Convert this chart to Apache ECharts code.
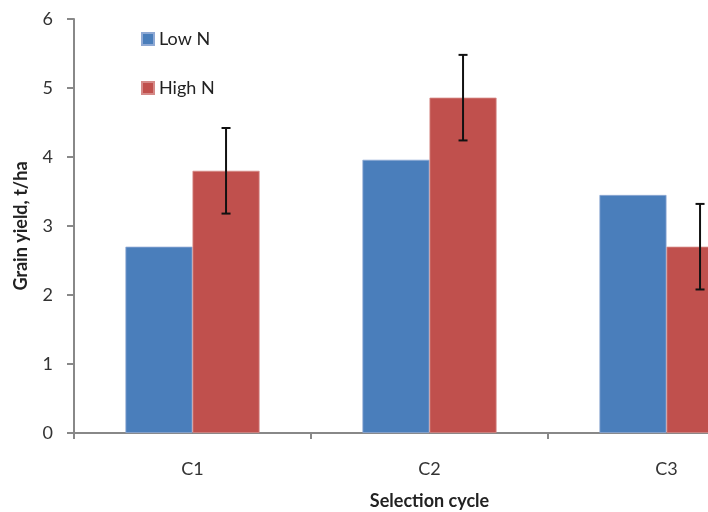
<!DOCTYPE html>
<html><head><meta charset="utf-8">
<script src="https://cdn.jsdelivr.net/npm/echarts@6/dist/echarts.min.js"></script>
<style>html,body{margin:0;padding:0;background:#fff}#c{width:708px;height:512px}</style>
</head><body><div id="c"></div>
<script>
const categories = ['C1', 'C2', 'C3'];
const lowN = [2.70, 3.96, 3.45];
const highN = [3.80, 4.86, 2.70];
const highNErr = [0.62, 0.62, 0.62];
const yTicks = [0, 1, 2, 3, 4, 5, 6];

const FONT = 'Lato, "Open Sans", sans-serif';
const BARW = 0.283;
const errData = categories.map((c, i) => [i, highN[i] - highNErr[i], highN[i] + highNErr[i]]);

const chart = echarts.init(document.getElementById('c'), null, {renderer: 'canvas'});
chart.setOption({
  animation: false,
  backgroundColor: '#fff',
  grid: {left: 74, top: 19, right: -77, bottom: 79, containLabel: false, outerBoundsMode: 'none'},
  legend: {
    orient: 'vertical', left: 136, top: 25, itemWidth: 12, itemHeight: 12, itemGap: 31,
    icon: 'rect',
    textStyle: {fontFamily: FONT, fontSize: 18, color: '#222'},
    data: ['Low N', 'High N']
  },
  xAxis: {
    type: 'category', data: categories,
    name: 'Selection cycle', nameLocation: 'middle', nameGap: 59,
    nameTextStyle: {fontFamily: FONT, fontSize: 18, fontWeight: 'bold', color: '#222'},
    axisLine: {lineStyle: {color: '#888', width: 2}},
    axisTick: {show: true, length: 6, lineStyle: {color: '#888', width: 2}},
    axisLabel: {fontFamily: FONT, fontSize: 18, color: '#333', margin: 27}
  },
  yAxis: {
    type: 'value', min: yTicks[0], max: yTicks[yTicks.length - 1], interval: 1,
    name: 'Grain yield, t/ha', nameLocation: 'middle', nameGap: 44, nameRotate: 90,
    nameTextStyle: {fontFamily: FONT, fontSize: 18, fontWeight: 'bold', color: '#222'},
    axisLine: {show: true, lineStyle: {color: '#888', width: 2}},
    axisTick: {show: true, length: 7, lineStyle: {color: '#888', width: 2}},
    axisLabel: {fontFamily: FONT, fontSize: 18, color: '#333', margin: 21},
    splitLine: {show: false}
  },
  series: [
    {name: 'Low N', type: 'bar', data: lowN, barWidth: (BARW * 100) + '%', barGap: '0%',
     itemStyle: {color: '#4A7EBB', borderColor: '#8FA9D4', borderWidth: 0.8}},
    {name: 'High N', type: 'bar', data: highN, barWidth: (BARW * 100) + '%', barGap: '0%',
     itemStyle: {color: '#C0504D', borderColor: '#D58A88', borderWidth: 0.8}},
    {name: 'err', type: 'custom', data: errData, z: 10,
     renderItem: function (params, api) {
       const i = api.value(0);
       const band = api.size([1, 0])[0];
       const lo = api.coord([i, api.value(1)]);
       const hi = api.coord([i, api.value(2)]);
       const x = lo[0] + band * BARW / 2;
       const cap = 4.5;
       const st = {stroke: '#111', lineWidth: 2};
       return {type: 'group', children: [
         {type: 'line', shape: {x1: x, y1: lo[1], x2: x, y2: hi[1]}, style: st},
         {type: 'line', shape: {x1: x - cap, y1: lo[1], x2: x + cap, y2: lo[1]}, style: st},
         {type: 'line', shape: {x1: x - cap, y1: hi[1], x2: x + cap, y2: hi[1]}, style: st}
       ]};
     }}
  ]
});
</script></body></html>
